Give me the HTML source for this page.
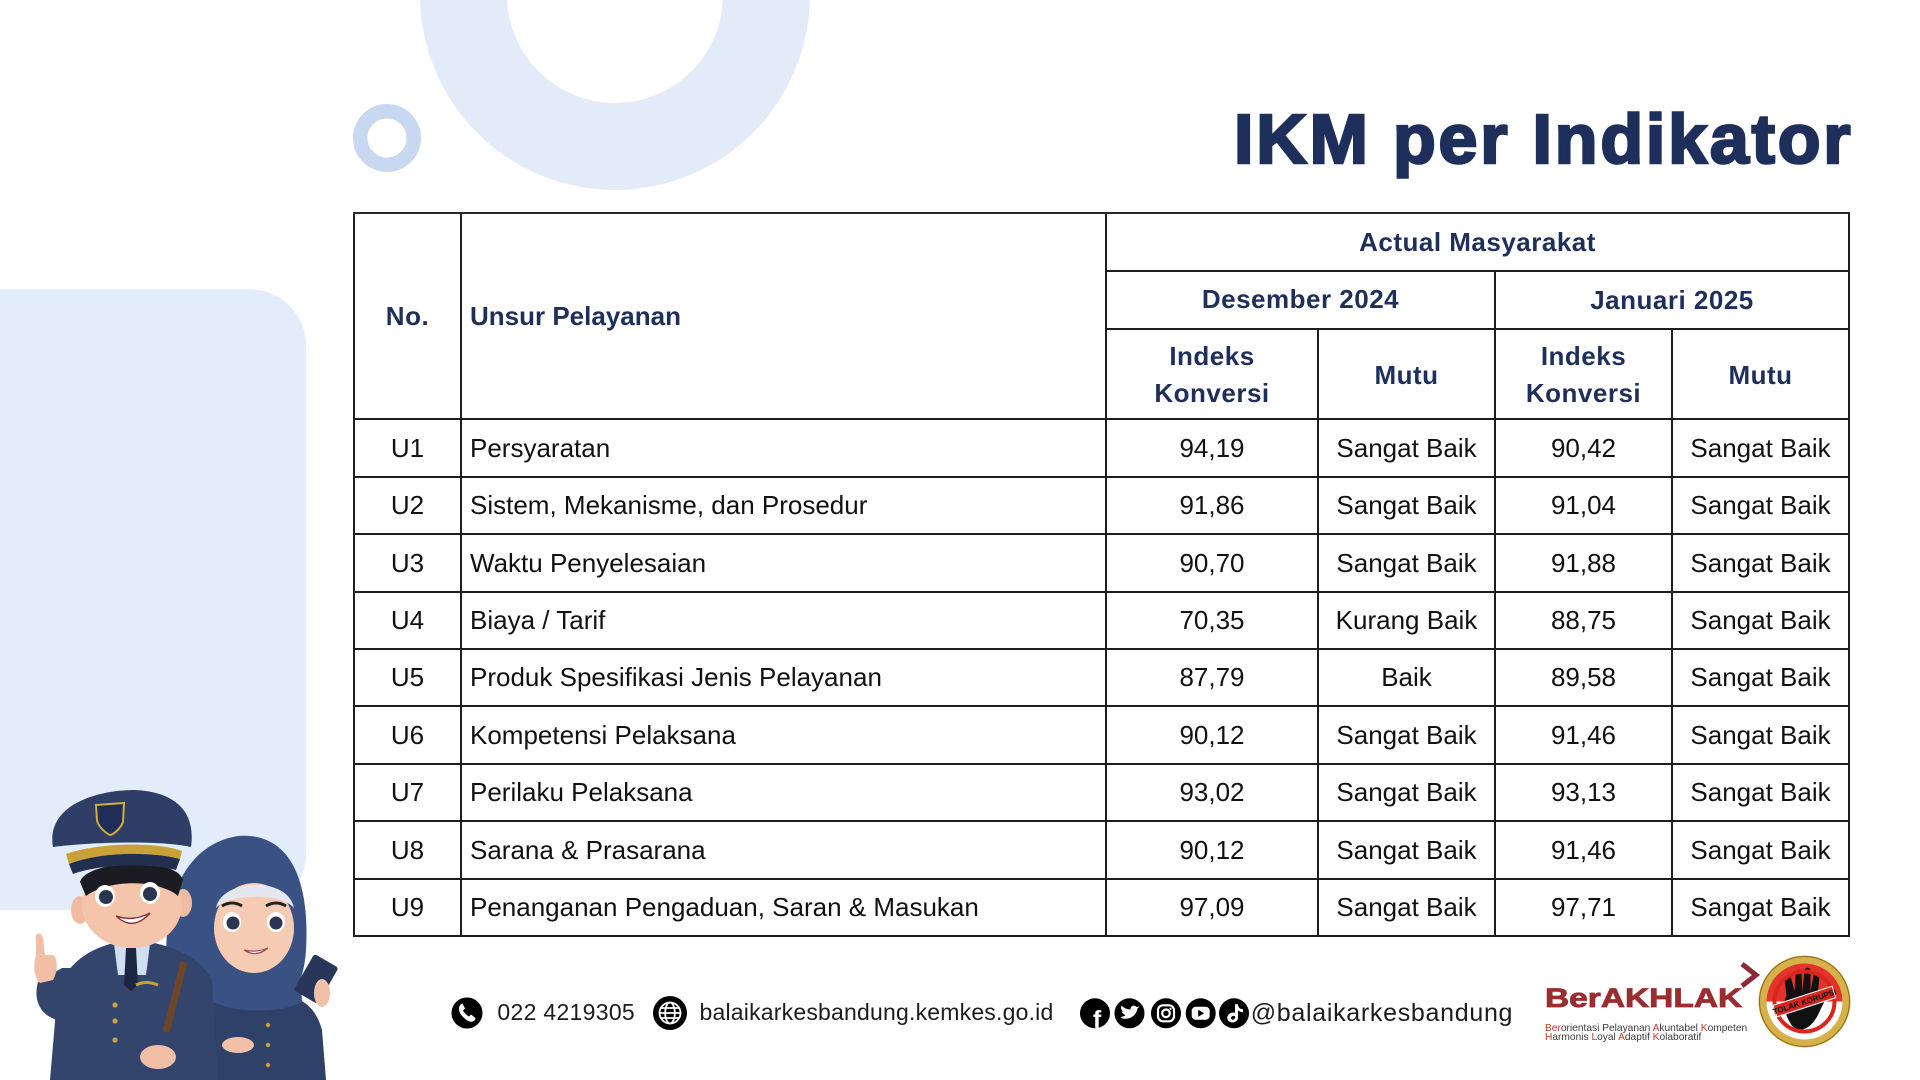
<!DOCTYPE html>
<html>
<head>
<meta charset="utf-8">
<style>
  html,body{margin:0;padding:0;}
  body{width:1920px;height:1080px;overflow:hidden;background:#ffffff;position:relative;font-family:"Liberation Sans",Arial,sans-serif;}
  svg.bg{position:absolute;left:0;top:0;}
  .t{position:absolute;white-space:nowrap;}
  .h{font-size:26px;line-height:26px;font-weight:bold;color:#1f2f5c;letter-spacing:0.5px;}
  .r{font-size:26px;line-height:26px;color:#111;}
  .n{left:354px;width:107px;text-align:center;}
  .u{left:470px;}
  .a{left:1106px;width:212px;text-align:center;}
  .b{left:1318px;width:177px;text-align:center;}
  .c{left:1495px;width:177px;text-align:center;}
  .d{left:1672px;width:177px;text-align:center;}
  .vl{position:absolute;width:2px;background:#1e1e1e;}
  .hl{position:absolute;height:2px;background:#1e1e1e;}
  .title{position:absolute;left:1234px;top:103.5px;font-size:70px;line-height:70px;font-weight:bold;color:#1e2f5c;letter-spacing:2.8px;-webkit-text-stroke:2.6px #1e2f5c;white-space:nowrap;}
  .ft{font-size:23px;line-height:23px;color:#1c1c1c;}
  .logo{position:absolute;left:1545px;top:985.4px;font-size:27px;line-height:27px;font-weight:bold;white-space:nowrap;transform:scaleX(1.24);transform-origin:left top;color:#9a2d30;-webkit-text-stroke:0.8px #9a2d30;}
  .sub{position:absolute;left:1545px;font-size:10.2px;line-height:10px;color:#3a3a3a;white-space:nowrap;}
  .sub span{color:#c0392b;}
</style>
</head>
<body>
<svg class="bg" width="1920" height="1080" viewBox="0 0 1920 1080" xmlns="http://www.w3.org/2000/svg">
  <circle cx="615" cy="-5" r="151.5" fill="none" stroke="#e3ebf9" stroke-width="87"/>
  <circle cx="387" cy="138" r="26.75" fill="none" stroke="#c9d8f1" stroke-width="14.5"/>
  <rect x="-80" y="289.3" width="386" height="621" rx="56" ry="56" fill="#e3ecfa"/>

  <path d="M168,975 C160,910 180,845 238,836 C290,832 310,880 306,950 C304,985 290,1005 265,1008 C220,1010 180,1000 168,975 Z" fill="#3a5283"/>
  <path d="M200,1080 L204,1015 C214,995 240,990 270,992 C300,995 315,1005 322,1030 L326,1080 Z" fill="#2f4069"/>
  <ellipse cx="254" cy="928" rx="40" ry="45" fill="#f6cbb3"/>
  <path d="M216,908 C222,878 288,876 294,908 C282,893 230,893 216,908 Z" fill="#e4e8ee"/>
  <path d="M212,958 C228,992 282,994 300,958 L302,1002 C282,1014 226,1014 208,998 Z" fill="#3a5283"/>
  <ellipse cx="232" cy="922" rx="9" ry="10" fill="#ffffff"/>
  <circle cx="233" cy="923" r="6.5" fill="#2b3552"/>
  <ellipse cx="276" cy="922" rx="9" ry="10" fill="#ffffff"/>
  <circle cx="276" cy="923" r="6.5" fill="#2b3552"/>
  <path d="M222,906 Q232,900 242,906" stroke="#222" stroke-width="3" fill="none"/>
  <path d="M266,906 Q276,900 286,906" stroke="#222" stroke-width="3" fill="none"/>
  <path d="M244,950 Q256,958 268,948 Q256,953 244,950 Z" fill="#fff" stroke="#9a4a4a" stroke-width="1.2"/>
  <g transform="translate(316,979) rotate(30)"><rect x="-14" y="-21" width="28" height="42" rx="3" fill="#2a3659"/></g>
  <ellipse cx="322" cy="993" rx="8" ry="14" fill="#f0c1a8"/>
  <ellipse cx="238" cy="1045" rx="16" ry="8" fill="#f0c1a8"/>
  <circle cx="268" cy="1025" r="2.2" fill="#c9a237"/>
  <circle cx="268" cy="1045" r="2.2" fill="#c9a237"/>
  <circle cx="268" cy="1065" r="2.2" fill="#c9a237"/>

  <path d="M50,1080 L56,1010 L60,985 C70,962 90,948 118,942 L150,942 C178,948 200,958 212,980 L218,1080 Z" fill="#33446d"/>
  <path d="M62,968 L38,982 C33,1000 40,1016 60,1021 L97,1016 L94,968 Z" fill="#33446d"/>
  <path d="M36,940 C34,933 41,931 43,938 L45,955 L53,955 C58,958 58,972 53,980 L40,983 C34,978 33,965 36,955 Z" fill="#f0bfa6"/>
  <polygon points="114,944 150,944 146,975 118,975" fill="#cfdff0"/>
  <polygon points="126,948 136,948 138,985 131,991 124,985" fill="#1d2640"/>
  <line x1="184" y1="962" x2="166" y2="1032" stroke="#6e4528" stroke-width="7"/>
  <circle cx="115" cy="1005" r="2.6" fill="#c9a237"/>
  <circle cx="115" cy="1021" r="2.6" fill="#c9a237"/>
  <circle cx="115" cy="1040" r="2.6" fill="#c9a237"/>
  <path d="M136,985 Q146,980 158,985" stroke="#c9a237" stroke-width="3" fill="none"/>
  <ellipse cx="158" cy="1057" rx="18" ry="12" fill="#f0bfa6"/>
  <ellipse cx="80" cy="910" rx="9" ry="14" fill="#efbca3"/>
  <ellipse cx="183" cy="903" rx="9" ry="14" fill="#efbca3"/>
  <ellipse cx="132" cy="905" rx="50" ry="43" fill="#f4c4ab"/>
  <path d="M80,882 C86,860 176,856 183,880 L178,896 C160,880 110,878 86,896 Z" fill="#1b1b22"/>
  <ellipse cx="105" cy="896" rx="10" ry="11" fill="#ffffff"/>
  <circle cx="106" cy="897" r="7" fill="#2a3550"/>
  <ellipse cx="150" cy="893" rx="10" ry="11" fill="#ffffff"/>
  <circle cx="150" cy="894" r="7" fill="#2a3550"/>
  <path d="M116,916 Q133,932 150,913 Q133,922 116,916 Z" fill="#fff" stroke="#8a3b3b" stroke-width="1.5"/>
  <path d="M53,847 C46,806 95,790 135,790 C176,792 196,812 191,847 C160,840 90,842 53,847 Z" fill="#2e3e66"/>
  <path d="M66,854 C100,842 160,842 182,851 L180,859 C150,851 100,852 69,864 Z" fill="#c9a237"/>
  <path d="M69,864 C100,852 150,851 180,859 L176,870 C150,863 100,864 73,874 Z" fill="#232f4f"/>
  <path d="M96,805 L124,803 L123,822 C120,830 112,835 110,835 C104,832 98,826 97,820 Z" fill="#1f2d58" stroke="#d4ac3a" stroke-width="2"/>

  <circle cx="467" cy="1013" r="15.5" fill="#000"/>
  <path transform="translate(467,1013)" d="M-6,-9 C-9,-6 -9,-1 -4,4 C1,9 5,10 8,7 L8.5,5 L4,1.5 L2,3.5 C0,2.5 -3,-0.5 -4,-2.5 L-2,-4.5 L-4.5,-9.5 Z" fill="#fff"/>
  <circle cx="670" cy="1013" r="17" fill="#000"/>
  <g transform="translate(670,1013)" stroke="#fff" fill="none" stroke-width="1.8">
    <circle r="10.5"/>
    <ellipse rx="4.8" ry="10.5"/>
    <line x1="-10.5" y1="0" x2="10.5" y2="0"/>
    <line x1="-9" y1="-5" x2="9" y2="-5"/>
    <line x1="-9" y1="5" x2="9" y2="5"/>
  </g>
  <circle cx="1095" cy="1013.3" r="15" fill="#000"/>
  <text x="1097" y="1028" font-family="Liberation Sans, sans-serif" font-weight="bold" font-size="25" fill="#fff" text-anchor="middle">f</text>
  <circle cx="1129.5" cy="1013.3" r="15" fill="#000"/>
  <path transform="translate(1129.5,1013.5)" d="M-9,4 C-4,7 6,5 8,-5 L10,-7 L7,-6.5 C5,-9 1,-8 1,-4 C-3,-4 -6,-6 -8,-8 C-9,-5 -8,-3 -6,-2 L-8,-2 C-7,0 -5,1 -4,2 C-6,3 -8,3 -9,4 Z" fill="#fff"/>
  <circle cx="1166" cy="1013.3" r="15" fill="#000"/>
  <g transform="translate(1166,1013.3)" stroke="#fff" fill="none" stroke-width="2.2">
    <rect x="-8" y="-8" width="16" height="16" rx="5"/>
    <circle r="3.8"/>
  </g>
  <circle cx="1170.5" cy="1008.8" r="1.1" fill="#fff"/>
  <circle cx="1200.7" cy="1013.3" r="15" fill="#000"/>
  <rect x="1191.7" y="1006.8" width="18" height="13" rx="4" fill="#fff"/>
  <path d="M1198.2,1009.8 L1204.2,1013.3 L1198.2,1016.8 Z" fill="#000"/>
  <circle cx="1234" cy="1013.3" r="15" fill="#000"/>
  <path transform="translate(1234,1013.3)" d="M1,-9 L4,-9 C4,-6 6,-4 9,-4 L9,-1 C7,-1 5,-2 4,-3 L4,4 C4,8 0,10 -3,9 C-7,8 -8,3 -5,1 C-3,-1 -1,-1 1,-0.5 L1,3 C-1,2 -3,3 -3,5 C-3,7 1,7 1,4 Z" fill="#fff"/>

  <path d="M1742,964 L1756,975 L1742,986" stroke="#8a2a35" stroke-width="5" fill="none"/>

  <g transform="translate(1804.5,1001.5)">
    <circle r="46" fill="#d6b049"/>
    <circle r="45" fill="none" stroke="#8a6a1c" stroke-width="1"/>
    <circle r="38" fill="#ffffff"/>
    <path d="M-38,0 A38,38 0 0 1 38,0 Z" fill="#e3332a"/>
    <path d="M-14,22 C-20,12 -22,2 -18,-6 L-20,-22 C-20,-27 -14,-27 -13,-22 L-10,-10 L-9,-28 C-9,-33 -3,-33 -3,-28 L-2,-10 L0,-30 C0,-35 6,-35 6,-30 L6,-10 L9,-26 C10,-31 16,-30 15,-25 L13,-6 L18,-12 C22,-16 27,-12 24,-8 L16,8 C12,18 6,26 -2,28 C-8,28 -12,26 -14,22 Z" fill="#111"/>
    <circle r="30" fill="none" stroke="#d9261c" stroke-width="4"/>
    <g transform="rotate(-18)">
      <rect x="-31" y="-6" width="62" height="12" fill="#d9261c" stroke="#fff" stroke-width="1"/>
      <text x="0" y="3" font-family="Liberation Sans, sans-serif" font-weight="bold" font-size="8" fill="#111" text-anchor="middle">TOLAK KORUPSI</text>
    </g>
  </g>
</svg>

<div class="title">IKM per Indikator</div>

<div class="vl" style="left:353px;top:211.7px;height:725.2px;"></div>
<div class="vl" style="left:459.7px;top:211.7px;height:725.2px;"></div>
<div class="vl" style="left:1105px;top:211.7px;height:725.2px;"></div>
<div class="vl" style="left:1317.3px;top:328.3px;height:608.6px;"></div>
<div class="vl" style="left:1494.3px;top:269.7px;height:667.2px;"></div>
<div class="vl" style="left:1671.3px;top:328.3px;height:608.6px;"></div>
<div class="vl" style="left:1848.3px;top:211.7px;height:725.2px;"></div>

<div class="hl" style="left:353px;width:1497.3px;top:211.7px;background:#2a2a2a;"></div>
<div class="hl" style="left:1105px;width:745.3px;top:269.7px;"></div>
<div class="hl" style="left:1105px;width:745.3px;top:328.3px;"></div>
<div class="hl" style="left:353px;width:1497.3px;top:418.3px;"></div>
<div class="hl" style="left:353px;width:1497.3px;top:475.7px;"></div>
<div class="hl" style="left:353px;width:1497.3px;top:533.1px;"></div>
<div class="hl" style="left:353px;width:1497.3px;top:590.5px;"></div>
<div class="hl" style="left:353px;width:1497.3px;top:647.9px;"></div>
<div class="hl" style="left:353px;width:1497.3px;top:705.3px;"></div>
<div class="hl" style="left:353px;width:1497.3px;top:762.7px;"></div>
<div class="hl" style="left:353px;width:1497.3px;top:820.1px;"></div>
<div class="hl" style="left:353px;width:1497.3px;top:877.5px;"></div>
<div class="hl" style="left:353px;width:1497.3px;top:934.9px;"></div>

<div class="t h n" style="top:303px;">No.</div>
<div class="t h u" style="top:303px;letter-spacing:0;">Unsur Pelayanan</div>
<div class="t h" style="left:1106px;width:743px;text-align:center;top:229px;">Actual Masyarakat</div>
<div class="t h" style="left:1106px;width:389px;text-align:center;top:286.3px;">Desember 2024</div>
<div class="t h" style="left:1495px;width:354px;text-align:center;top:286.7px;">Januari 2025</div>
<div class="t h a" style="top:343px;">Indeks</div>
<div class="t h a" style="top:380.3px;">Konversi</div>
<div class="t h b" style="top:362px;">Mutu</div>
<div class="t h c" style="top:343px;">Indeks</div>
<div class="t h c" style="top:380.3px;">Konversi</div>
<div class="t h d" style="top:362px;">Mutu</div>

<div class="t r n" style="top:434.7px;">U1</div>
<div class="t r u" style="top:434.7px;">Persyaratan</div>
<div class="t r a" style="top:434.7px;">94,19</div>
<div class="t r b" style="top:434.7px;">Sangat Baik</div>
<div class="t r c" style="top:434.7px;">90,42</div>
<div class="t r d" style="top:434.7px;">Sangat Baik</div>

<div class="t r n" style="top:492.1px;">U2</div>
<div class="t r u" style="top:492.1px;">Sistem, Mekanisme, dan Prosedur</div>
<div class="t r a" style="top:492.1px;">91,86</div>
<div class="t r b" style="top:492.1px;">Sangat Baik</div>
<div class="t r c" style="top:492.1px;">91,04</div>
<div class="t r d" style="top:492.1px;">Sangat Baik</div>

<div class="t r n" style="top:549.5px;">U3</div>
<div class="t r u" style="top:549.5px;">Waktu Penyelesaian</div>
<div class="t r a" style="top:549.5px;">90,70</div>
<div class="t r b" style="top:549.5px;">Sangat Baik</div>
<div class="t r c" style="top:549.5px;">91,88</div>
<div class="t r d" style="top:549.5px;">Sangat Baik</div>

<div class="t r n" style="top:606.9px;">U4</div>
<div class="t r u" style="top:606.9px;">Biaya / Tarif</div>
<div class="t r a" style="top:606.9px;">70,35</div>
<div class="t r b" style="top:606.9px;">Kurang Baik</div>
<div class="t r c" style="top:606.9px;">88,75</div>
<div class="t r d" style="top:606.9px;">Sangat Baik</div>

<div class="t r n" style="top:664.3px;">U5</div>
<div class="t r u" style="top:664.3px;">Produk Spesifikasi Jenis Pelayanan</div>
<div class="t r a" style="top:664.3px;">87,79</div>
<div class="t r b" style="top:664.3px;">Baik</div>
<div class="t r c" style="top:664.3px;">89,58</div>
<div class="t r d" style="top:664.3px;">Sangat Baik</div>

<div class="t r n" style="top:721.7px;">U6</div>
<div class="t r u" style="top:721.7px;">Kompetensi Pelaksana</div>
<div class="t r a" style="top:721.7px;">90,12</div>
<div class="t r b" style="top:721.7px;">Sangat Baik</div>
<div class="t r c" style="top:721.7px;">91,46</div>
<div class="t r d" style="top:721.7px;">Sangat Baik</div>

<div class="t r n" style="top:779.1px;">U7</div>
<div class="t r u" style="top:779.1px;">Perilaku Pelaksana</div>
<div class="t r a" style="top:779.1px;">93,02</div>
<div class="t r b" style="top:779.1px;">Sangat Baik</div>
<div class="t r c" style="top:779.1px;">93,13</div>
<div class="t r d" style="top:779.1px;">Sangat Baik</div>

<div class="t r n" style="top:836.5px;">U8</div>
<div class="t r u" style="top:836.5px;">Sarana &amp; Prasarana</div>
<div class="t r a" style="top:836.5px;">90,12</div>
<div class="t r b" style="top:836.5px;">Sangat Baik</div>
<div class="t r c" style="top:836.5px;">91,46</div>
<div class="t r d" style="top:836.5px;">Sangat Baik</div>

<div class="t r n" style="top:893.9px;">U9</div>
<div class="t r u" style="top:893.9px;">Penanganan Pengaduan, Saran &amp; Masukan</div>
<div class="t r a" style="top:893.9px;">97,09</div>
<div class="t r b" style="top:893.9px;">Sangat Baik</div>
<div class="t r c" style="top:893.9px;">97,71</div>
<div class="t r d" style="top:893.9px;">Sangat Baik</div>

<div class="t ft" style="left:497.4px;top:1001.2px;letter-spacing:0.3px;">022 4219305</div>
<div class="t ft" style="left:699.5px;top:1001.2px;letter-spacing:0.2px;">balaikarkesbandung.kemkes.go.id</div>
<div class="t ft" style="left:1250.7px;top:1000.8px;font-size:25px;line-height:25px;letter-spacing:0.7px;">@balaikarkesbandung</div>

<div class="logo">BerAKHLAK</div>
<div class="sub" style="top:1023.5px;"><span>Ber</span>orientasi Pelayanan <span>A</span>kuntabel <span>K</span>ompeten</div>
<div class="sub" style="top:1033.2px;"><span>H</span>armonis <span>L</span>oyal <span>A</span>daptif <span>K</span>olaboratif</div>
</body>
</html>
